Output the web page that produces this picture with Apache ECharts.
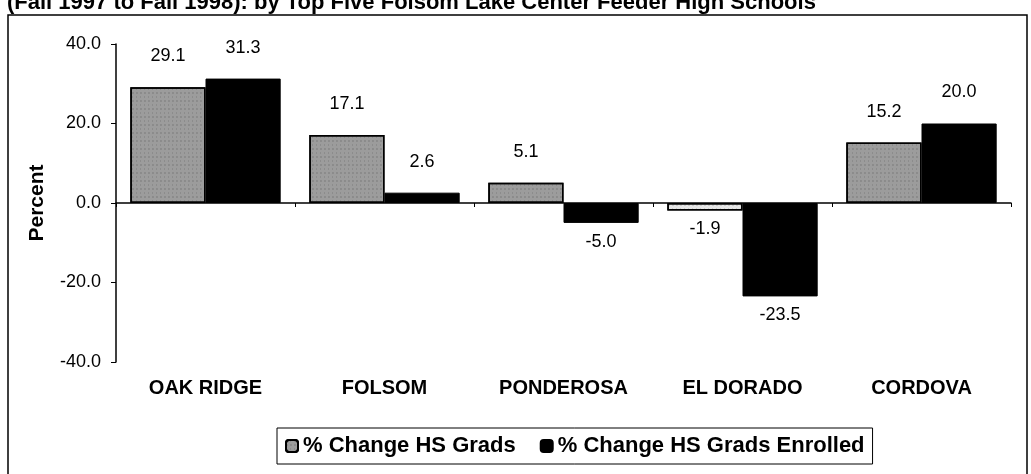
<!DOCTYPE html>
<html>
<head>
    <meta charset="utf-8">
    <title>HS Grads Change</title>
    <script src="https://cdn.jsdelivr.net/npm/echarts@6/dist/echarts.min.js"></script>
    <style>
        body { margin: 0; background: #fff; }
    </style>
</head>
<body>
<div id="main" style="width: 1031px;height:474px;"></div>
<script type="text/javascript">
    var schools = ['OAK RIDGE', 'FOLSOM', 'PONDEROSA', 'EL DORADO', 'CORDOVA'];
    var changeGrads = [29.1, 17.1, 5.1, -1.9, 15.2];
    var changeEnrolled = [31.3, 2.6, -5.0, -23.5, 20.0];
    var seriesNames = ['% Change HS Grads', '% Change HS Grads Enrolled'];

    var FONT = 'Liberation Sans, Arial, sans-serif';

    function valLabel(pos, dist) {
        return {
            show: true,
            position: pos,
            distance: dist,
            fontFamily: FONT,
            fontSize: 18,
            color: '#000',
            formatter: function (p) { return p.value.toFixed(1); }
        };
    }

    var option = {
        backgroundColor: '#fff',
        animation: false,
        title: {
            text: '(Fall 1997 to Fall 1998): by Top Five Folsom Lake Center Feeder High Schools',
            left: 2,
            top: -13,
            textStyle: {
                fontFamily: FONT,
                fontWeight: 'bold',
                fontSize: 22,
                color: '#000'
            }
        },
        graphic: [{
            type: 'rect',
            shape: { x: 8, y: 15, width: 1019, height: 475 },
            style: { fill: 'none', stroke: '#000', lineWidth: 1.5 },
            silent: true
        }],
        legend: {
            data: seriesNames,
            left: 277,
            top: 428,
            orient: 'horizontal',
            itemWidth: 12,
            itemHeight: 12,
            itemGap: 24,
            borderColor: '#000',
            borderWidth: 1,
            padding: [7, 8, 7, 8],
            textStyle: {
                fontFamily: FONT,
                fontWeight: 'bold',
                fontSize: 22,
                color: '#000'
            }
        },
        grid: { left: 116, right: 20, top: 44, bottom: 112 },
        xAxis: [{
            type: 'category',
            data: schools,
            axisLine: { show: false, onZero: false },
            axisTick: { show: false },
            axisLabel: {
                margin: 16,
                fontFamily: FONT,
                fontWeight: 'bold',
                fontSize: 20,
                color: '#000'
            }
        }, {
            type: 'category',
            data: schools,
            position: 'bottom',
            axisLine: { show: true, onZero: true, lineStyle: { color: '#000', width: 1.5 } },
            axisTick: { show: true, length: 4, lineStyle: { color: '#000' } },
            axisLabel: { show: false }
        }],
        yAxis: {
            type: 'value',
            min: -40,
            max: 40,
            interval: 20,
            name: 'Percent',
            nameLocation: 'middle',
            nameGap: 68,
            nameTextStyle: {
                fontFamily: FONT,
                fontWeight: 'bold',
                fontSize: 21,
                color: '#000'
            },
            axisLine: { show: true, lineStyle: { color: '#000', width: 1.5 } },
            axisTick: { show: true, length: 5, lineStyle: { color: '#000' } },
            splitLine: { show: false },
            axisLabel: {
                margin: 15,
                fontFamily: FONT,
                fontSize: 18,
                color: '#000',
                formatter: function (v) { return v.toFixed(1); }
            }
        },
        series: [{
            name: seriesNames[0],
            type: 'bar',
            xAxisIndex: 0,
            barGap: '0%',
            barCategoryGap: '16%',
            itemStyle: {
                color: '#9c9c9c',
                borderColor: '#000',
                borderWidth: 1.5,
                decal: {
                    symbol: 'rect',
                    color: 'rgba(40,40,40,0.45)',
                    symbolSize: 0.6,
                    dashArrayX: [[2, 2], [1, 3]],
                    dashArrayY: [2, 2],
                    rotation: 0
                }
            },
            label: valLabel('top', 22),
            data: changeGrads.map(function (v) {
                return v < 0 ? { value: v, label: valLabel('bottom', 9), itemStyle: { color: '#e6e6e6' } } : v;
            })
        }, {
            name: seriesNames[1],
            type: 'bar',
            xAxisIndex: 0,
            barGap: '0%',
            barCategoryGap: '16%',
            itemStyle: { color: '#000', borderColor: '#000', borderWidth: 1 },
            label: valLabel('top', 22),
            data: changeEnrolled.map(function (v) {
                return v < 0 ? { value: v, label: valLabel('bottom', 10) } : v;
            })
        }]
    };

    var myChart = echarts.init(document.getElementById('main'));
    myChart.setOption(option);
</script>
</body>
</html>
